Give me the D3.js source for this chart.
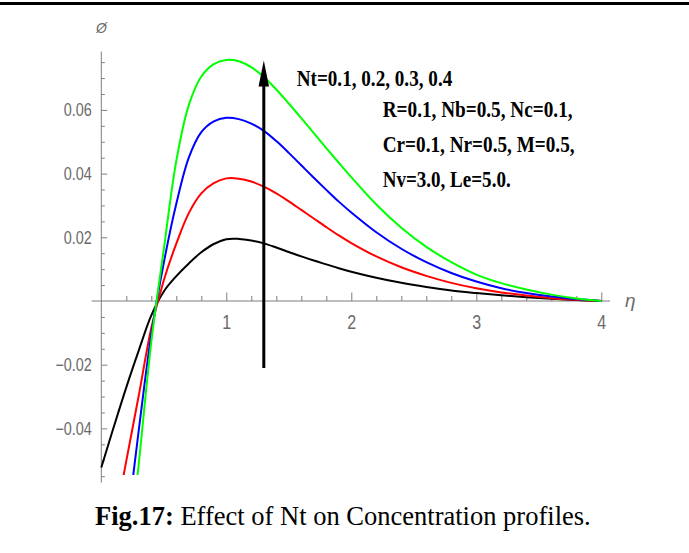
<!DOCTYPE html>
<html><head><meta charset="utf-8">
<script src="https://cdn.jsdelivr.net/npm/d3@7"></script>
<style>body{margin:0;background:#fff}svg{display:block}</style>
</head><body>
<svg id="c" width="689" height="553"></svg>
<script>
// ---- data ----
const eta = [0,0.1,0.2,0.3,0.4,0.5,0.6,0.7,0.8,0.9,1.0,1.1,1.2,1.3,1.4,1.5,1.6,1.7,1.8,1.9,2.0,2.2,2.4,2.6,2.8,3.0,3.2,3.4,3.6,3.8,4.0];
const phiNt01 = [-0.0523,-0.0395,-0.0271,-0.0155,-0.0045,0.0030,0.0078,0.0118,0.0153,0.0179,0.0194,0.0195,0.0190,0.0181,0.0168,0.0154,0.0140,0.0127,0.0115,0.0103,0.0092,0.0073,0.0057,0.0044,0.0033,0.0025,0.0018,0.0012,0.0007,0.0003,0];
const phiNt02 = [null,-0.0710,-0.0502,-0.0296,-0.0085,0.0065,0.0180,0.0276,0.0338,0.0370,0.0385,0.0384,0.0375,0.0359,0.0338,0.0313,0.0286,0.0259,0.0232,0.0206,0.0182,0.0140,0.0106,0.0079,0.0057,0.0040,0.0027,0.0017,0.0009,0.0004,0];
const phiNt03 = [null,null,-0.0730,-0.0405,-0.0105,0.0120,0.0305,0.0450,0.0530,0.0564,0.0575,0.0571,0.0557,0.0534,0.0502,0.0465,0.0426,0.0387,0.0349,0.0312,0.0278,0.0216,0.0164,0.0122,0.0088,0.0061,0.0040,0.0025,0.0014,0.0006,0];
const phiNt04 = [null,null,-0.0880,-0.0510,-0.0128,0.0162,0.0440,0.0615,0.0705,0.0744,0.0757,0.0753,0.0734,0.0703,0.0664,0.0620,0.0574,0.0527,0.0480,0.0434,0.0389,0.0303,0.0230,0.0170,0.0122,0.0083,0.0056,0.0036,0.0020,0.0008,0];
const seriesNames = ["Nt=0.1","Nt=0.2","Nt=0.3","Nt=0.4"];
const seriesColors = ["#000000","#ff0000","#0000ff","#00ff00"];
const xTickValues = [1,2,3,4];
const yTickValues = [-0.04,-0.02,0.02,0.04,0.06];
const annotLines = ["Nt=0.1, 0.2, 0.3, 0.4","R=0.1, Nb=0.5, Nc=0.1,","Cr=0.1, Nr=0.5, M=0.5,","Nv=3.0, Le=5.0."];
const captionBold = "Fig.17:";
const captionText = " Effect of Nt on Concentration profiles.";
const arrowEta = 1.3, arrowFrom = -0.021, arrowTo = 0.0755;

// ---- drawing ----
const svg = d3.select("#c");
const x = d3.scaleLinear().domain([0,4]).range([101.3,601.3]);
const y = d3.scaleLinear().domain([0,0.06]).range([301,109.9]);
const axisColor = "#7d7d7d", labelColor = "#6a6a6a";
const sans = "'Liberation Sans', Arial, sans-serif";
const serif = "'Liberation Serif', 'Times New Roman', serif";

function fit(sel, ax, w){
  const bw = sel.node().getBBox().width;
  const k = w/bw;
  sel.attr("transform", `translate(${ax},0) scale(${k},1) translate(${-ax},0)`);
}

// top rule
svg.append("rect").attr("x",0).attr("y",2).attr("width",689).attr("height",3).attr("fill","#000");

// axis lines
svg.append("line").attr("x1",x(-0.077)).attr("x2",x(4.07)).attr("y1",y(0)).attr("y2",y(0))
  .attr("stroke",axisColor).attr("stroke-width",1);
svg.append("line").attr("x1",x(0)).attr("x2",x(0)).attr("y1",y(0.0783)).attr("y2",y(-0.057))
  .attr("stroke",axisColor).attr("stroke-width",1);

// minor ticks
const xMinor = d3.range(1,21).map(i=>i*0.2).filter(v=>Math.abs(v-Math.round(v))>1e-6);
const yMinor = d3.range(-11,16).map(i=>i*0.005).filter(v=>Math.abs(v)>1e-9 && Math.abs(v*50-Math.round(v*50))>1e-6);

const gx = svg.append("g").attr("transform",`translate(0,${y(0)})`);
gx.call(d3.axisBottom(x).tickValues(xMinor).tickSize(-5).tickFormat(""));
gx.call(g=>g.select(".domain").remove());
const gx2 = svg.append("g").attr("transform",`translate(0,${y(0)})`);
gx2.call(d3.axisBottom(x).tickValues(xTickValues).tickSize(-8.5).tickPadding(13.5).tickFormat(d3.format("d")));
gx2.call(g=>g.select(".domain").remove());
[gx,gx2].forEach(g=>g.selectAll("line").attr("stroke",axisColor));
gx2.selectAll("text").attr("font-family",sans).attr("font-size",20).attr("fill",labelColor)
  .attr("transform","scale(0.8,1)");

const gy = svg.append("g").attr("transform",`translate(${x(0)},0)`);
gy.call(d3.axisLeft(y).tickValues(yMinor).tickSize(-3.5).tickFormat(""));
gy.call(g=>g.select(".domain").remove());
const gy2 = svg.append("g").attr("transform",`translate(${x(0)},0)`);
gy2.call(d3.axisLeft(y).tickValues(yTickValues).tickSize(-6).tickPadding(11.8).tickFormat(d3.format(".2f")));
gy2.call(g=>g.select(".domain").remove());
[gy,gy2].forEach(g=>g.selectAll("line").attr("stroke",axisColor));
gy2.selectAll("text").attr("font-family",sans).attr("font-size",18).attr("fill",labelColor)
  .attr("transform","scale(0.8,1)");

// axis labels
svg.append("text").attr("x",101.5).attr("y",33.3).attr("text-anchor","middle")
  .attr("font-family",sans).attr("font-size",14).attr("font-style","italic").attr("fill",labelColor).text("Ø");
svg.append("text").attr("x",625).attr("y",307)
  .attr("font-family",sans).attr("font-size",19).attr("font-style","italic").attr("fill",labelColor).text("η");

// curves
svg.append("clipPath").attr("id","clip").append("rect")
  .attr("x",0).attr("y",0).attr("width",689).attr("height",y(-0.0546));
const series = [phiNt01,phiNt02,phiNt03,phiNt04];
const line = d3.line().defined(d=>d[1]!==null).x(d=>x(d[0])).y(d=>y(d[1])).curve(d3.curveCatmullRom.alpha(0.5));
const gc = svg.append("g").attr("clip-path","url(#clip)");
series.forEach((s,i)=>{
  gc.append("path").datum(eta.map((e,j)=>[e,s[j]]))
    .attr("d",line).attr("fill","none").attr("stroke",seriesColors[i]).attr("stroke-width",2)
    .attr("stroke-linejoin","round").attr("data-name",seriesNames[i]);
});

// arrow
const ax = x(arrowEta), headLen = 26, headW = 10.5;
svg.append("line").attr("x1",ax).attr("x2",ax).attr("y1",y(arrowFrom)).attr("y2",y(arrowTo)+headLen-2)
  .attr("stroke","#000").attr("stroke-width",3);
svg.append("path").attr("d",`M${ax},${y(arrowTo)} L${ax-headW/2},${y(arrowTo)+headLen} L${ax+headW/2},${y(arrowTo)+headLen} Z`).attr("fill","#000");

// annotation
const annPos = [[296.7,86,156],[382.7,116.7,190],[382.7,151.7,192],[382.7,186.7,128]];
annotLines.forEach((t,i)=>{
  const el = svg.append("text").attr("x",annPos[i][0]).attr("y",annPos[i][1])
    .attr("font-family",serif).attr("font-weight","bold").attr("font-size",23).attr("fill","#000").text(t);
  fit(el, annPos[i][0], annPos[i][2]);
});

// caption
const cap = svg.append("text").attr("x",95).attr("y",525).attr("font-family",serif).attr("font-size",27).attr("fill","#000");
cap.append("tspan").attr("font-weight","bold").text(captionBold);
cap.append("tspan").text(captionText);
fit(cap, 95, 496);
</script>
</body></html>
